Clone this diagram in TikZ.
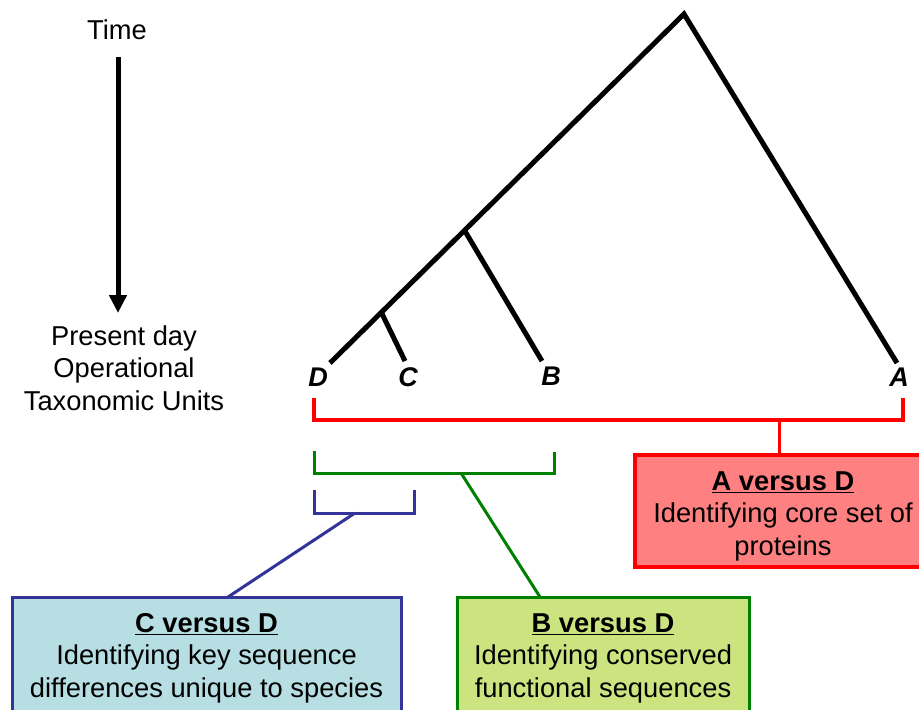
\documentclass[tikz,border=0pt]{standalone}
\usepackage{fontspec}
\setmainfont{Liberation Sans}
\usetikzlibrary{arrows.meta,calc}
\definecolor{redline}{RGB}{255,0,0}
\definecolor{redfill}{RGB}{255,128,128}
\definecolor{greenline}{RGB}{0,128,0}
\definecolor{greenfill}{RGB}{204,228,128}
\definecolor{blueline}{RGB}{51,51,153}
\definecolor{bluefill}{RGB}{183,222,226}
\begin{document}
\begin{tikzpicture}[x=1pt,y=-1pt,
  tree/.style={line width=5pt},
  lbl/.style={font=\fontsize{27}{32}\selectfont\bfseries\itshape, inner sep=0pt},
  txt/.style={font=\fontsize{27.3}{32.3}\selectfont, align=center, inner sep=0pt},
  bracket/.style={line width=#1},
  box/.style={draw, rectangle, inner sep=0pt}]
\useasboundingbox (0,0) rectangle (919,710);
\clip (0,0) rectangle (919,710);
% time axis
\node[txt, anchor=base] (time) at (117,39) {Time};
\node[txt, anchor=base] (present) at (124,410) {Present day\\Operational\\Taxonomic Units};
\coordinate (arrowstart) at (118,57);
\coordinate (arrowend) at (118,313);
\draw[line width=5pt, -{Triangle[width=17pt,length=18pt]}] (arrowstart) -- (arrowend);
% tree
\coordinate (root) at (684,14);
\coordinate (Dend) at (330,363);
\coordinate (Aend) at (897,363);
\coordinate (Cend) at (405,361);
\coordinate (Bend) at (542,361);
\coordinate (jB) at ($(root)!0.62!(Dend)$);
\coordinate (jC) at ($(root)!0.855!(Dend)$);
\draw[tree] (Dend) -- (root) -- (Aend);
\draw[tree] (jB) -- (Bend);
\draw[tree] (jC) -- (Cend);
\node[lbl] (D) at (318,377) {D};
\node[lbl] (C) at (408,377) {C};
\node[lbl] (B) at (551,376) {B};
\node[lbl] (A) at (899,377) {A};
% brackets
\coordinate (r1) at (314,398); \coordinate (r2) at (314,420);
\coordinate (r3) at (903,420); \coordinate (r4) at (903,398);
\draw[bracket=4pt, redline] (r1) -- (r2) -- (r3) -- (r4);
\coordinate (g1) at (314,451); \coordinate (g2) at (314,473);
\coordinate (g3) at (554,473); \coordinate (g4) at (554,452);
\draw[bracket=3pt, greenline] (g1) -- (g2) -- (g3) -- (g4);
\coordinate (b1) at (314,490); \coordinate (b2) at (314,513);
\coordinate (b3) at (414,513); \coordinate (b4) at (414,490);
\draw[bracket=3pt, blueline] (b1) -- (b2) -- (b3) -- (b4);
% boxes
\node[box, line width=4pt, draw=redline, fill=redfill, minimum width=296pt, minimum height=112pt] (redbox) at (783,511) {};
\node[box, line width=3pt, draw=greenline, fill=greenfill, minimum width=292pt, minimum height=123pt] (greenbox) at (603,658.5) {};
\node[box, line width=3pt, draw=blueline, fill=bluefill, minimum width=389pt, minimum height=123pt] (bluebox) at (206.5,658.5) {};
\node[txt, anchor=base] (redtext) at (783,555) {\textbf{\underline{A versus D}}\\Identifying core set of\\proteins};
\node[txt, anchor=base] (greentext) at (603,697) {\textbf{\underline{B versus D}}\\Identifying conserved\\functional sequences};
\node[txt, anchor=base] (bluetext) at (206.5,697) {\textbf{\underline{C versus D}}\\Identifying key sequence\\differences unique to species};
% connectors
\coordinate (rs) at (779,420);
\coordinate (gs) at (461,473);
\coordinate (gt) at (540,597);
\coordinate (bs) at (355,513);
\coordinate (bt) at (228,597);
\draw[line width=3pt, redline] (rs) -- (rs |- redbox.north);
\draw[line width=3pt, greenline] (gs) -- (gt);
\draw[line width=3pt, blueline] (bs) -- (bt);
\end{tikzpicture}
\end{document}
